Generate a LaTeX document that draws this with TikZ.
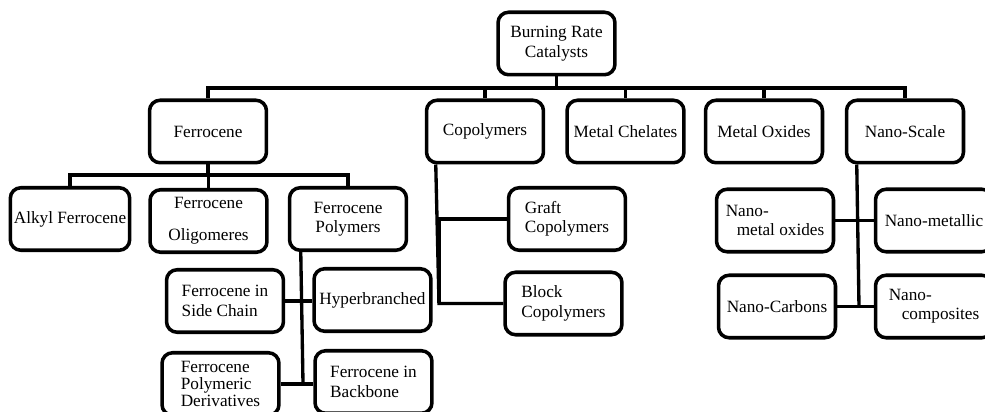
\documentclass[tikz,border=0pt]{standalone}
\usepackage{fontspec}
\setmainfont{Liberation Serif}
\begin{document}
\begin{tikzpicture}[x=0.02cm,y=-0.02cm]
        \tikzstyle{catbox}=[rectangle,draw=black,line width=2pt,rounded corners=6pt,fill=white,minimum width=2.34cm,minimum height=1.25cm,align=center,inner sep=2pt,font=\fontsize{9.8}{11}\selectfont]
        \tikzstyle{link}=[draw,line width=1.9pt]
        \clip (0,0) rectangle (985,412);
       \begin{scope}
         % top and first level
         \node [catbox] (root) at (556.5,43.5) {Burning Rate\\Catalysts};
         \node [catbox] (ferro) at (208,131.5) {Ferrocene};
         \node [catbox] (copoly) at (485,131.5) {Copolymers};
         \node [catbox] (chelates) at (625.5,131.5) {Metal Chelates};
         \node [catbox] (oxides) at (764,131.5) {Metal Oxides};
         \node [catbox] (nanoscale) at (905,131.5) {Nano-Scale};

         % ferrocene branch
         \node [catbox] (alkyl) at (70,219) {Alkyl Ferrocene};
         \node [catbox] (oligo) at (208.5,221) {Ferrocene\\[7pt]Oligomeres};
         \node [catbox] (fpoly) at (348,219) {Ferrocene\\Polymers};
         \node [catbox,align=left] (sidechain) at (225,301) {Ferrocene in\\Side Chain};
         \node [catbox] (hyper) at (372.5,300) {Hyperbranched};
         \node [catbox,align=left,font=\fontsize{9.8}{9.8}\selectfont] (deriv) at (220.5,384) {Ferrocene\\Polymeric\\Derivatives};
         \node [catbox,align=left] (backbone) at (373.5,382) {Ferrocene in\\Backbone};

         % copolymers branch
         \node [catbox,align=left] (graft) at (567,219) {Graft\\Copolymers};
         \node [catbox,align=left] (block) at (563.5,303.5) {Block\\Copolymers};

         % nano-scale branch
         \node [catbox,align=left] (nmo) at (775,220.5) {Nano-\\\hspace*{0.22cm}metal oxides};
         \node [catbox] (nmetal) at (934,220.5) {Nano-metallic};
         \node [catbox] (ncarbon) at (777,306.5) {Nano-Carbons};
         \node [catbox,align=left] (ncomp) at (934,306.5) {Nano-\\\hspace*{0.26cm}composites};

         \coordinate (b0) at (556.5,88);
         \coordinate (b1) at (208,175);
         \coordinate (t1) at (303,383);
         \coordinate (t2) at (439,303.5);
         \coordinate (t3) at (859,306.5);

         \path[link] (root.south) -- (b0);
         \path[link] (ferro.north) |- (b0);
         \path[link] (copoly.north) |- (b0);
         \path[link] (chelates.north) |- (b0);
         \path[link] (oxides.north) |- (b0);
         \path[link] (nanoscale.north) |- (b0);

         \path[link] (ferro.south) -- (b1);
         \path[link] (alkyl.north) |- (b1);
         \path[link] (oligo.north) |- (b1);
         \path[link] (fpoly.north) |- (b1);

         \path[link] ([xshift=0.26cm]fpoly.south west) -- (t1);
         \path[link] (sidechain.east) -- (sidechain.east -| hyper.west);
         \path[link] (deriv.east) -- (deriv.east -| backbone.west);

         \path[link] ([xshift=0.22cm]copoly.south west) -- (t2) -- (block.west);
         \path[link] (graft.west) -| (t2);

         \path[link] ([xshift=0.24cm]nanoscale.south west) -- (t3);
         \path[link] (nmo.east) -- (nmetal.west);
         \path[link] (ncarbon.east) -- (ncomp.west);
        \end{scope}
      \end{tikzpicture}
\end{document}
